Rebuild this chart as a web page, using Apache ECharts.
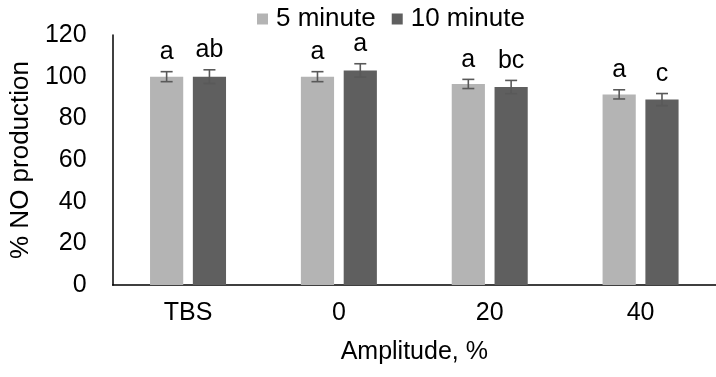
<!DOCTYPE html>
<html>
<head>
<meta charset="utf-8">
<script src="https://cdn.jsdelivr.net/npm/echarts@6/dist/echarts.min.js"></script>
<style>html,body{margin:0;padding:0;background:#fff}#c{width:716px;height:377px}</style>
</head>
<body>
<div id="c"></div>
<script>
var categories = ['TBS', '0', '20', '40'];
var seriesNames = ['5 minute', '10 minute'];
var min5 = [100, 100, 96.5, 91.5];
var min10 = [100, 103, 95, 89];
var err5 = [2.4, 2.4, 2.2, 2.2];
var err10 = [3.3, 3.2, 3.2, 2.9];
var letters5 = ['a', 'a', 'a', 'a'];
var letters10 = ['ab', 'a', 'bc', 'c'];
var yTicks = [0, 20, 40, 60, 80, 100, 120];

var FONT = 'Liberation Sans';
var FS = 25;
var BAR_W = 0.22, BAR_GAP = 0.29;

function errSeries(vals, errs, letters, side) {
  return {
    type: 'custom',
    z: 5,
    data: vals.map(function (v, i) { return [i, v, errs[i]]; }),
    renderItem: function (params, api) {
      var i = api.value(0), v = api.value(1), e = api.value(2);
      var band = api.size([1, 0])[0];
      var w = band * BAR_W;
      var off = side * w * (1 + BAR_GAP) / 2;
      var top = api.coord([i, v + e]);
      var bot = api.coord([i, v - e]);
      var x = top[0] + off;
      var cap = 6;
      var st = { stroke: '#595959', lineWidth: 1.6 };
      return {
        type: 'group',
        children: [
          { type: 'line', shape: { x1: x, y1: top[1], x2: x, y2: bot[1] }, style: st },
          { type: 'line', shape: { x1: x - cap, y1: top[1], x2: x + cap, y2: top[1] }, style: st },
          { type: 'line', shape: { x1: x - cap, y1: bot[1], x2: x + cap, y2: bot[1] }, style: st },
          { type: 'text', x: x, y: top[1] - 7,
            style: { text: letters[params.dataIndex], fill: '#000', font: FS + 'px "' + FONT + '"', align: 'center', verticalAlign: 'bottom' } }
        ]
      };
    }
  };
}

var chart = echarts.init(document.getElementById('c'));
chart.setOption({
  animation: false,
  textStyle: { fontFamily: FONT },
  legend: {
    data: seriesNames,
    top: 1,
    left: 252,
    icon: 'rect',
    itemWidth: 11,
    itemHeight: 11,
    itemGap: 16,
    textStyle: { fontSize: 26, color: '#000', fontFamily: FONT, padding: [0, 0, 0, 3] }
  },
  grid: { left: 111, top: 35, width: 615, height: 250, containLabel: false },
  xAxis: {
    type: 'category',
    data: categories,
    name: 'Amplitude, %',
    nameLocation: 'middle',
    nameGap: 55,
    nameTextStyle: { fontSize: FS, color: '#000', fontFamily: FONT },
    axisLine: { lineStyle: { color: '#000', width: 1.5 } },
    axisTick: { show: false },
    axisLabel: { fontSize: FS, color: '#000', margin: 16, fontFamily: FONT }
  },
  yAxis: {
    type: 'value',
    min: yTicks[0],
    max: yTicks[yTicks.length - 1],
    interval: 20,
    name: '% NO production',
    nameLocation: 'middle',
    nameRotate: 90,
    nameGap: 64,
    nameTextStyle: { fontSize: 26, color: '#000', fontFamily: FONT },
    axisLine: { show: true, lineStyle: { color: '#000', width: 1.5 } },
    axisTick: { show: false },
    splitLine: { show: false },
    axisLabel: { fontSize: FS, color: '#000', margin: 26, fontFamily: FONT }
  },
  series: [
    { name: seriesNames[0], type: 'bar', data: min5, barWidth: (BAR_W * 100) + '%', barGap: (BAR_GAP * 100) + '%', itemStyle: { color: '#B4B4B4' } },
    { name: seriesNames[1], type: 'bar', data: min10, barWidth: (BAR_W * 100) + '%', itemStyle: { color: '#5F5F5F' } },
    errSeries(min5, err5, letters5, -1),
    errSeries(min10, err10, letters10, 1)
  ]
});
</script>
</body>
</html>
